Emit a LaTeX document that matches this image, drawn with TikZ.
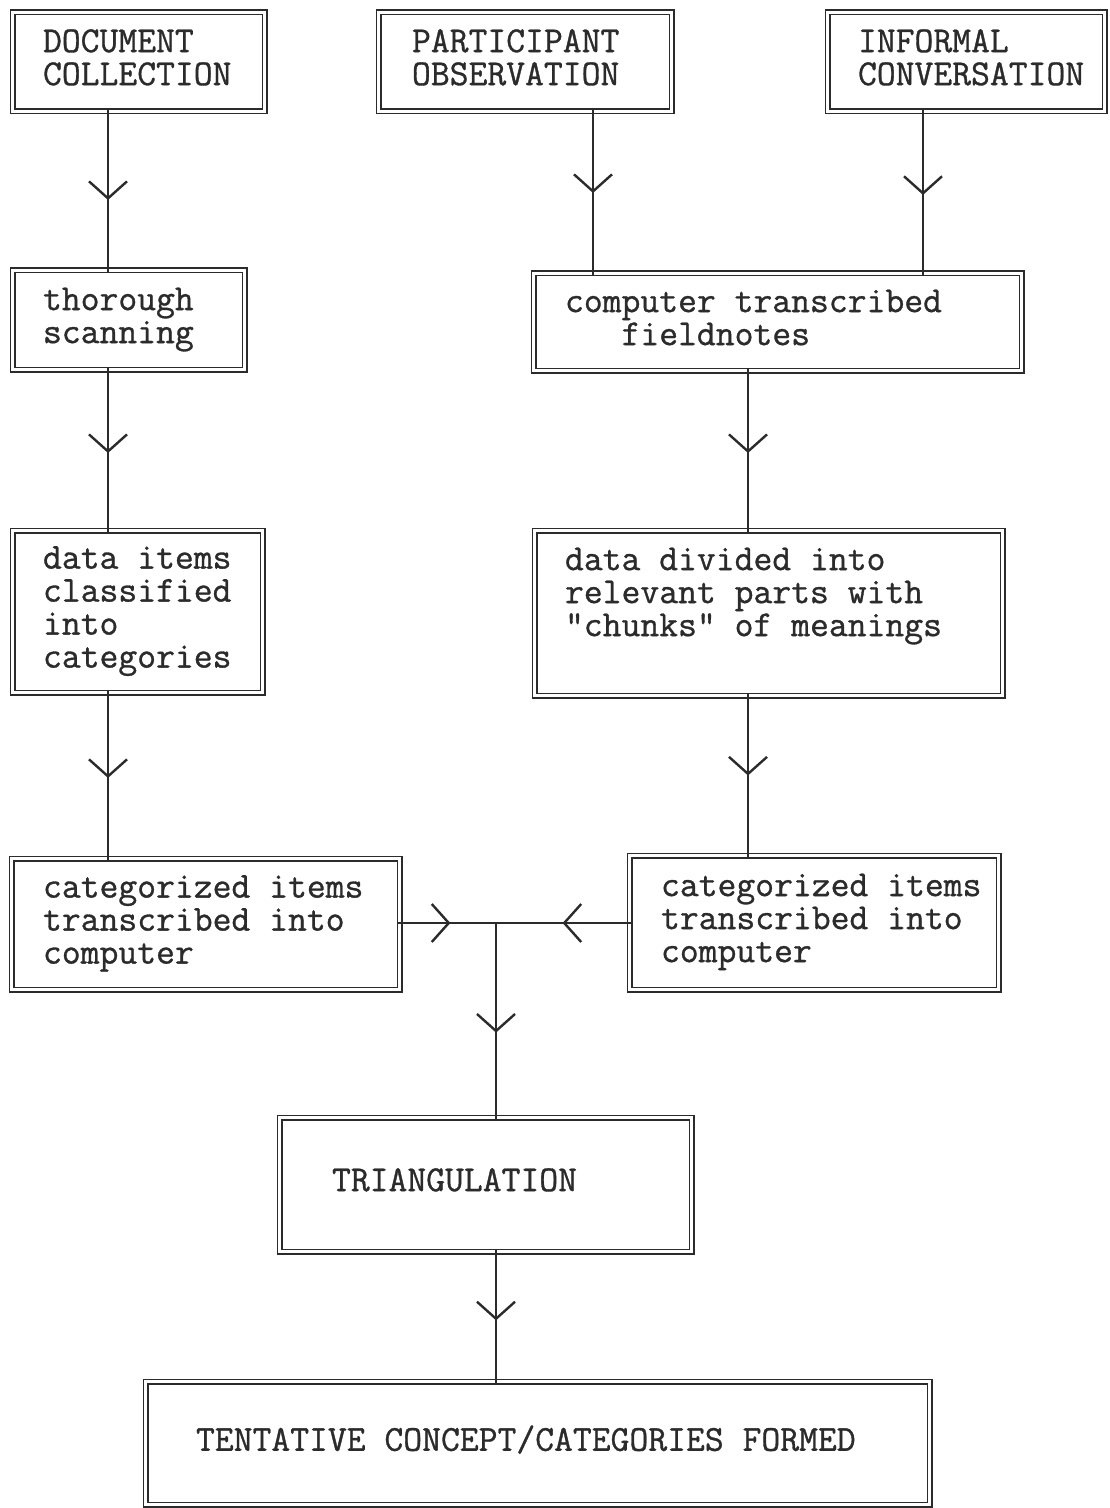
\documentclass[tikz,border=0pt]{standalone}
\usepackage{fontspec}
\newfontfamily\dgmono[FakeBold=0.9]{lmmono12-regular.otf}
\usetikzlibrary{arrows.meta,decorations.markings}
\definecolor{ink}{HTML}{2B2B2B}
\newcommand\dgfont{\dgmono\fontsize{18.3pt}{16.5pt}\selectfont}
\newcommand\dgtext[3]{\makebox[#1][l]{\hspace*{#2}\begin{tabular}{@{}l@{}}#3\end{tabular}}}
\tikzset{
  dbox/.style={draw=ink, line width=0.85pt, double=white, double distance=1.3pt,
               inner sep=0pt, text=ink, font=\dgfont},
  link/.style={draw=ink, line width=0.8pt, shorten <=-1.1pt, shorten >=-1.1pt},
  barb/.style={postaction={decorate}, decoration={markings,
      mark=at position #1 with {\arrow[ink]{Straight Barb[length=8.5pt, width=19pt, line width=1.2pt]}}}}
}
\begin{document}
\begin{tikzpicture}[x=0.5pt, y=-0.5pt]
\useasboundingbox[fill=white] (0,0) rectangle (1109,1508);

% boxes
\node[dbox, minimum width=126pt, minimum height=49.5pt] (doc) at (138.5,62)
  {\dgtext{126pt}{15.25pt}{DOCUMENT\\COLLECTION}};
\node[dbox, minimum width=146.5pt, minimum height=49.5pt] (part) at (525,62)
  {\dgtext{146.5pt}{16.75pt}{PARTICIPANT\\OBSERVATION}};
\node[dbox, minimum width=138.5pt, minimum height=49.5pt] (inf) at (966,62)
  {\dgtext{138.5pt}{15.25pt}{INFORMAL\\CONVERSATION}};
\node[dbox, minimum width=116pt, minimum height=49.5pt] (thor) at (128.5,320)
  {\dgtext{116pt}{15.25pt}{thorough\\scanning}};
\node[dbox, minimum width=244pt, minimum height=48.5pt] (comp) at (777.5,322)
  {\dgtext{244pt}{15.75pt}{computer transcribed\\\hphantom{xxx}fieldnotes}};
\node[dbox, minimum width=125pt, minimum height=81pt] (items) at (137.5,611.5)
  {\dgtext{125pt}{15.25pt}{data items\\classified\\into\\categories}};
\node[dbox, minimum width=234pt, minimum height=82.5pt] (div) at (768.5,613)
  {\dgtext{234pt}{15.25pt}{data divided into\\relevant parts with\\"chunks" of meanings\\[16.5pt]}};
\node[dbox, minimum width=194pt, minimum height=65.5pt] (catL) at (205.5,924)
  {\dgtext{194pt}{15.75pt}{categorized items\\transcribed into\\computer}};
\node[dbox, minimum width=184.5pt, minimum height=67pt] (catR) at (814,922.5)
  {\dgtext{184.5pt}{15.75pt}{categorized items\\transcribed into\\computer}};
\node[dbox, minimum width=206pt, minimum height=67pt] (tri) at (485.5,1184.5)
  {\dgtext{206pt}{26.25pt}{TRIANGULATION}};
\node[dbox, minimum width=392pt, minimum height=61.5pt] (tent) at (537.5,1443)
  {\dgtext{392pt}{25.25pt}{TENTATIVE CONCEPT/CATEGORIES FORMED}};

% helper coordinates for the connector columns
\coordinate (cL) at (108,0);
\coordinate (cP) at (593,0);
\coordinate (cI) at (923,0);
\coordinate (cR) at (748,0);
\coordinate (J) at (496,923);

% connectors
\draw[link, barb=0.557] (doc.south -| cL) -- (thor.north -| cL);
\draw[link, barb=0.519] (thor.south -| cL) -- (items.north -| cL);
\draw[link, barb=0.515] (items.south -| cL) -- (catL.north -| cL);
\draw[link, barb=0.503] (part.south -| cP) -- (comp.north -| cP);
\draw[link, barb=0.515] (inf.south -| cI) -- (comp.north -| cI);
\draw[link, barb=0.516] (comp.south -| cR) -- (div.north -| cR);
\draw[link, barb=0.5] (div.south -| cR) -- (catR.north -| cR);
\draw[link, shorten >=0pt, barb=0.523] (catL.east |- J) -- (J);
\draw[link, shorten >=0pt, barb=0.498] (catR.west |- J) -- (J);
\draw[link, shorten <=0pt, barb=0.566] (J) -- (tri.north -| J);
\draw[link, barb=0.53] (tri.south -| J) -- (tent.north -| J);
\end{tikzpicture}
\end{document}
